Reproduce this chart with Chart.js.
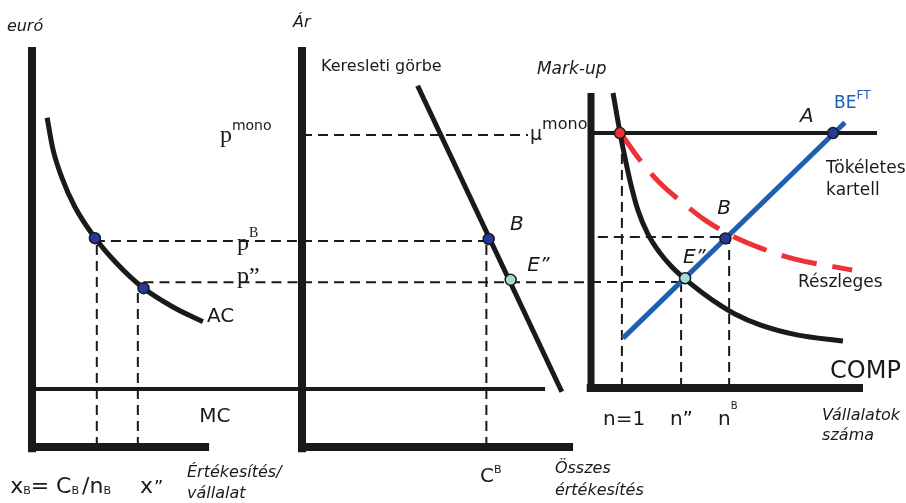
<!DOCTYPE html>
<html>
<head>
<meta charset="utf-8">
<script src="https://cdn.jsdelivr.net/npm/chart.js@4.4.1/dist/chart.umd.min.js"></script>
<style>
  html, body { margin: 0; padding: 0; background: #fff; }
  #wrap { position: relative; width: 906px; height: 503px; overflow: hidden; }
  #wrap canvas { position: absolute; left: 0; top: 0; }
</style>
</head>
<body>
<div id="wrap">
  <canvas id="firm" width="906" height="503"></canvas>
  <canvas id="market" width="906" height="503"></canvas>
  <canvas id="markup" width="906" height="503"></canvas>
</div>
<script>
// ---- panel 1: average cost of one firm (x = sales per firm, y = euro)
var acCurve = [[0.56,8.23],[0.78,7.43],[1.11,6.73],[1.59,6.0],[2.33,5.23],[3.15,4.58],[4.11,3.98],[5.22,3.5],[6.33,3.13]];
var mcLevel = 1.45;
var firmAxisEnd = 6.56;
var firmB = [2.33, 5.22];     // x_B, p^B
var firmE = [4.13, 3.97];     // x", p"
var xBLine = 2.4;
var xELine = 3.92;
var pBLevel = 5.15;
var pELevel = 4.12;
var pMonoLevel = 7.8;

// ---- panel 2: market demand (x = total sales, y = price)
var demandLine = [[4.0,9.03],[8.99,1.38]];
var marketB = [6.46, 5.2];
var marketE = [7.22, 4.18];
var cBLine = 6.38;
var marketAxisEnd = 9.38;
var mcEnd = 8.41;
var pMonoEnd = 7.82;

// ---- panel 3: mark-up vs number of firms
var compCurve = [[0.77,10.0],[1.01,8.68],[1.19,7.8],[1.4,6.88],[1.64,6.03],[1.99,5.22],[2.41,4.58],[2.83,4.1],[3.29,3.69],[3.81,3.29],[4.34,2.92],[5.03,2.51],[5.91,2.14],[7.2,1.8],[8.81,1.59]];
var partialCurve = [[1.01,8.68],[1.71,7.73],[2.41,6.95],[3.22,6.27],[3.99,5.69],[4.86,5.19],[5.91,4.75],[7.13,4.37],[9.13,4.0]];
var beLine = [[1.12,1.69],[8.88,9.0]];
var cartelLevel = 8.64;
var muMono = [1.01, 8.64];
var pointA = [8.46, 8.64];
var pointB = [4.7, 5.07];
var pointE = [3.29, 3.72];
var n1Line = 1.08, nELine = 3.15, nBLine = 4.83;
var muBLevel = 5.12, muELevel = 3.59;
var nAxisEnd = 9.51;

var SANS = '"DejaVu Sans", sans-serif';
var SERIF = '"Liberation Serif", serif';
var INK = '#1a1a1a';
var BLUE = '#1f5fb2';
var RED = '#ec3236';

function pts(arr) {
  return arr.map(function(p){ return {x: p[0], y: p[1]}; });
}

function line(arr, color, width, dash, curved) {
  return {
    data: pts(arr), showLine: true, pointRadius: 0,
    borderColor: color, borderWidth: width, borderDash: dash || [],
    borderCapStyle: 'butt', clip: false, order: 2,
    cubicInterpolationMode: curved ? 'monotone' : 'default', tension: 0
  };
}

function dot(p, fill) {
  return {
    data: pts([p]), showLine: false, pointRadius: 5.5,
    pointBackgroundColor: fill, pointBorderColor: INK, pointBorderWidth: 1.5,
    clip: false, order: 0
  };
}

function textPlugin(items) {
  return {
    id: 'texts',
    afterDatasetsDraw: function(chart) {
      var ctx = chart.ctx, sx = chart.scales.x, sy = chart.scales.y;
      ctx.save();
      ctx.textBaseline = 'alphabetic';
      ctx.textAlign = 'left';
      items.forEach(function(item) {
        var x = sx.getPixelForValue(item.x), y = sy.getPixelForValue(item.y);
        item.parts.forEach(function(p) {
          ctx.font = p.font;
          ctx.fillStyle = p.color || INK;
          x += (p.dx || 0);
          ctx.fillText(p.t, x, y + (p.dy || 0));
          x += ctx.measureText(p.t).width;
        });
      });
      ctx.restore();
    }
  };
}

function makeChart(id, pad, datasets, labels) {
  return new Chart(document.getElementById(id), {
    type: 'scatter',
    data: { datasets: datasets },
    options: {
      responsive: false, animation: false,
      layout: { padding: pad },
      scales: {
        x: { type: 'linear', min: 0, max: 10, display: false },
        y: { type: 'linear', min: 0, max: 10, display: false }
      },
      plugins: { legend: { display: false }, tooltip: { enabled: false } }
    },
    plugins: [textPlugin(labels)]
  });
}

// panel 1
makeChart('firm', {left: 32, right: 604, top: 47, bottom: 56}, [
  dot(firmB, '#24399a'),
  dot(firmE, '#24399a'),
  line([[0,-0.13],[0,10]], INK, 8),
  line([[-0.15,0],[firmAxisEnd,0]], INK, 8),
  line([[0,mcLevel],[10,mcLevel]], INK, 4),
  line(acCurve, INK, 5, null, true),
  line([[firmB[0],pBLevel],[10,pBLevel]], INK, 2, [10,6]),
  line([[firmE[0],pELevel],[10,pELevel]], INK, 2, [10,6]),
  line([[xBLine,0],[xBLine,firmB[1]]], INK, 2, [10,6]),
  line([[xELine,0],[xELine,firmE[1]]], INK, 2, [10,6])
], [
  {x:-0.93, y:10.4, parts:[{t:'euró', font:'italic 16px '+SANS}]},
  {x:6.96, y:7.63, parts:[{t:'p', font:'24px '+SERIF},{t:'mono', font:'14px '+SANS, dy:-12}]},
  {x:7.59, y:4.93, parts:[{t:'p', font:'24px '+SERIF},{t:'B', font:'14px '+SERIF, dy:-13}]},
  {x:7.59, y:4.1, parts:[{t:'p', font:'24px '+SERIF},{t:'”', font:'24px '+SERIF}]},
  {x:6.48, y:3.13, parts:[{t:'AC', font:'20px '+SANS}]},
  {x:6.19, y:0.63, parts:[{t:'MC', font:'20px '+SANS}]},
  {x:-0.81, y:-1.15, parts:[{t:'x', font:'22px '+SANS},{t:'B', font:'11px '+SANS, dy:1},
    {t:'= C', font:'22px '+SANS},{t:'B', font:'11px '+SANS, dy:1},
    {t:'/n', font:'22px '+SANS, dx:3},{t:'B', font:'11px '+SANS, dy:1}]},
  {x:4.0, y:-1.15, parts:[{t:'x', font:'22px '+SANS},{t:'”', font:'18px '+SANS, dx:1}]},
  {x:5.74, y:-0.75, parts:[{t:'Értékesítés/', font:'italic 16px '+SANS}]},
  {x:5.74, y:-1.28, parts:[{t:'vállalat', font:'italic 16px '+SANS}]}
]);

// panel 2
makeChart('market', {left: 302, right: 315, top: 47, bottom: 56}, [
  dot(marketB, '#24399a'),
  dot(marketE, '#a6dbd6'),
  line([[0,-0.13],[0,10]], INK, 8),
  line([[0,0],[marketAxisEnd,0]], INK, 8),
  line([[0,mcLevel],[mcEnd,mcLevel]], INK, 4),
  line(demandLine, INK, 5),
  line([[0,pMonoLevel],[pMonoEnd,pMonoLevel]], INK, 2, [10,6]),
  line([[0,pBLevel],[marketB[0],pBLevel]], INK, 2, [10,6]),
  line([[0,pELevel],[10,pELevel]], INK, 2, [10,6]),
  line([[cBLine,0],[cBLine,marketB[1]]], INK, 2, [10,6])
], [
  {x:-0.31, y:10.5, parts:[{t:'Ár', font:'italic 16px '+SANS}]},
  {x:0.66, y:9.4, parts:[{t:'Keresleti görbe', font:'16px '+SANS}]},
  {x:7.89, y:7.68, parts:[{t:'μ', font:'19px '+SANS},{t:'mono', font:'16px '+SANS, dy:-11}]},
  {x:7.2, y:5.43, parts:[{t:'B', font:'italic 20px '+SANS}]},
  {x:7.79, y:4.4, parts:[{t:'E', font:'italic 20px '+SANS},{t:'”', font:'italic 19px '+SANS}]},
  {x:6.16, y:-0.88, parts:[{t:'C', font:'20px '+SANS},{t:'B', font:'11px '+SANS, dy:-9}]},
  {x:8.75, y:-0.65, parts:[{t:'Összes', font:'italic 16px '+SANS}]},
  {x:8.75, y:-1.2, parts:[{t:'értékesítés', font:'italic 16px '+SANS}]}
]);

// panel 3
makeChart('markup', {left: 591, right: 29, top: 93, bottom: 115}, [
  dot(muMono, RED),
  dot(pointA, '#24399a'),
  dot(pointB, '#24399a'),
  dot(pointE, '#a6dbd6'),
  line([[0,-0.13],[0,10]], INK, 7),
  line([[-0.15,0],[nAxisEnd,0]], INK, 8),
  line([[0,cartelLevel],[10,cartelLevel]], INK, 4),
  line(compCurve, INK, 5, null, true),
  line(beLine, BLUE, 5),
  line(partialCurve, RED, 5, [36,16], true),
  line([[0,muELevel],[pointE[0],muELevel]], INK, 2, [10,6]),
  line([[0.24,muBLevel],[pointB[0],muBLevel]], INK, 2, [10,6]),
  line([[n1Line,0],[n1Line,cartelLevel]], INK, 2, [10,6]),
  line([[nELine,0],[nELine,pointE[1]]], INK, 2, [10,6]),
  line([[nBLine,0],[nBLine,pointB[1]]], INK, 2, [10,6])
], [
  {x:-1.89, y:10.64, parts:[{t:'Mark-up', font:'italic 17px '+SANS}]},
  {x:7.31, y:9.02, parts:[{t:'A', font:'italic 20px '+SANS}]},
  {x:8.5, y:9.49, parts:[{t:'BE', font:'17px '+SANS, color:BLUE},{t:'FT', font:'12px '+SANS, dy:-9, color:BLUE}]},
  {x:8.22, y:7.29, parts:[{t:'Tökéletes', font:'17px '+SANS}]},
  {x:8.22, y:6.54, parts:[{t:'kartell', font:'17px '+SANS}]},
  {x:4.41, y:5.9, parts:[{t:'B', font:'italic 20px '+SANS}]},
  {x:3.22, y:4.24, parts:[{t:'E', font:'italic 20px '+SANS},{t:'”', font:'italic 19px '+SANS}]},
  {x:7.24, y:3.42, parts:[{t:'Részleges', font:'17px '+SANS}]},
  {x:8.36, y:0.34, parts:[{t:'COMP', font:'24px '+SANS}]},
  {x:0.42, y:-1.25, parts:[{t:'n=1', font:'20px '+SANS}]},
  {x:2.76, y:-1.25, parts:[{t:'n', font:'20px '+SANS},{t:'”', font:'20px '+SANS}]},
  {x:4.44, y:-1.25, parts:[{t:'n', font:'20px '+SANS},{t:'B', font:'10px '+SANS, dy:-16}]},
  {x:8.08, y:-1.08, parts:[{t:'Vállalatok', font:'italic 16px '+SANS}]},
  {x:8.08, y:-1.76, parts:[{t:'száma', font:'italic 16px '+SANS}]}
]);
</script>
</body>
</html>
